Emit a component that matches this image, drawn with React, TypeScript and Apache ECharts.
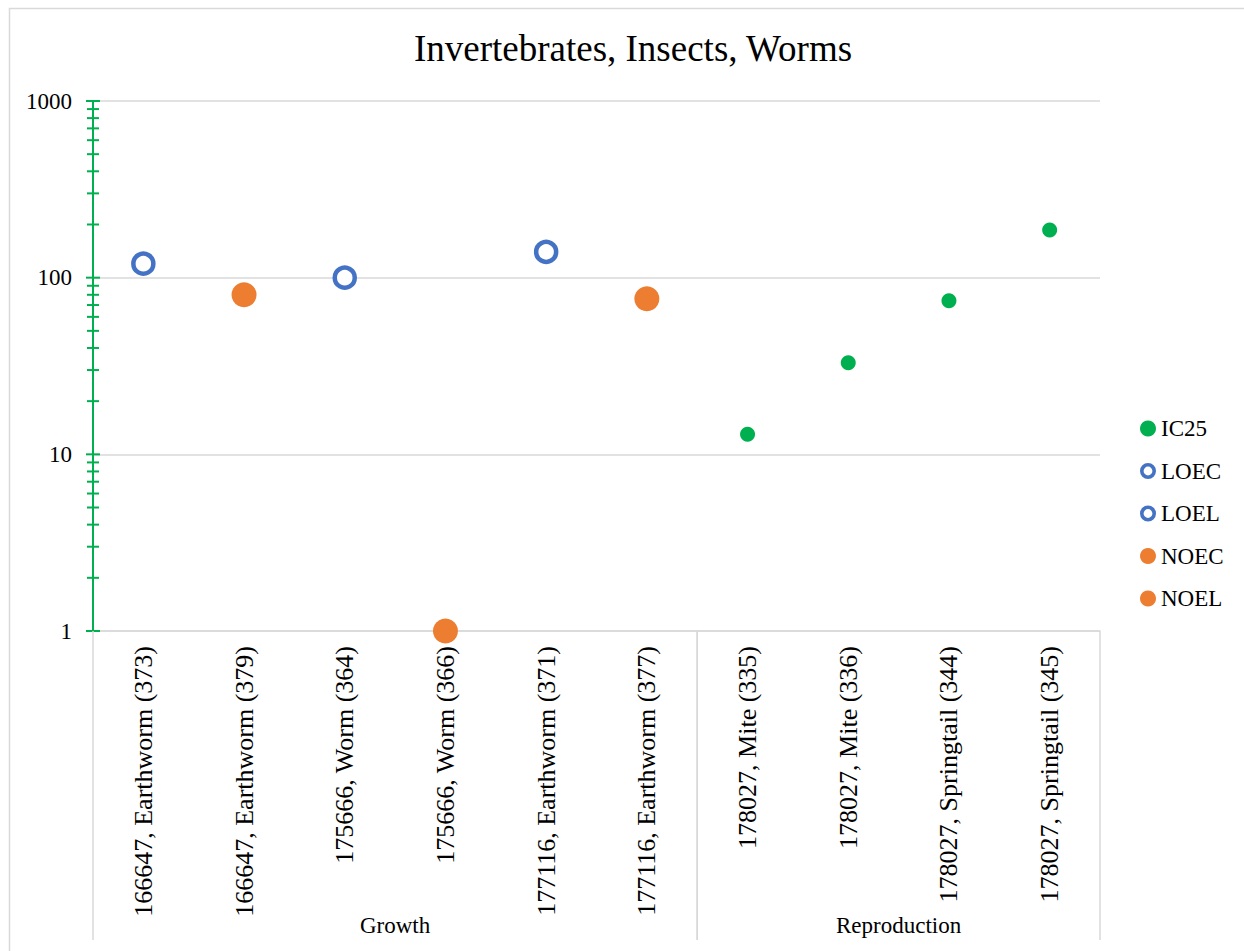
import React, { useEffect, useRef } from 'react';
import * as echarts from 'echarts';

// Test endpoints, one per category column
const categories = [
  '166647, Earthworm (373)',
  '166647, Earthworm (379)',
  '175666, Worm (364)',
  '175666, Worm (366)',
  '177116, Earthworm (371)',
  '177116, Earthworm (377)',
  '178027, Mite (335)',
  '178027, Mite (336)',
  '178027, Springtail (344)',
  '178027, Springtail (345)',
];

// Outer category level
const groupNames = ['Growth', 'Reproduction'];
const groupFirst = [0, 6];
const groupLast = [5, 9];

// Values per series (null = no observation for that column)
const ic25 = [null, null, null, null, null, null, 13, 33, 74, 186];
const loec = [120, null, null, null, 140, null, null, null, null, null];
const loel = [null, null, 100, null, null, null, null, null, null, null];
const noec = [null, 80, null, null, null, 76, null, null, null, null];
const noel = [null, null, null, 1, null, null, null, null, null, null];

// Log-axis tick marks
const majorTicks = [1, 10, 100, 1000];
const minorTicks = [
  2, 3, 4, 5, 6, 7, 8, 9,
  20, 30, 40, 50, 60, 70, 80, 90,
  200, 300, 400, 500, 600, 700, 800, 900,
];

const FONT = '"Liberation Serif", "Times New Roman", serif';
const GREEN = '#00B050';
const BLUE = '#4472C4';
const ORANGE = '#ED7D31';
const GRID_GRAY = '#D9D9D9';

const toPoints = (vals: (number | null)[]) =>
  vals.map((v, i) => (v == null ? null : [i, v])).filter((p) => p !== null);

const ringIcon =
  'path://M0,8A8,8 0 1,1 16,8A8,8 0 1,1 0,8ZM3.6,8A4.4,4.4 0 1,0 12.4,8A4.4,4.4 0 1,0 3.6,8Z';

export default function App() {
  const ref = useRef<HTMLDivElement>(null);

  useEffect(() => {
    document.body.style.margin = '0';
    if (!ref.current) return;
    const chart = echarts.init(ref.current, undefined, { renderer: 'svg' });

    const hollow = (name: string, vals: (number | null)[]) => ({
      name,
      type: 'scatter',
      data: toPoints(vals),
      symbol: 'circle',
      symbolSize: 20,
      clip: false,
      itemStyle: { color: '#ffffff', borderColor: BLUE, borderWidth: 4.5, opacity: 1 },
      z: 5,
    });
    const filled = (name: string, vals: (number | null)[], color: string, size: number) => ({
      name,
      type: 'scatter',
      data: toPoints(vals),
      symbol: 'circle',
      symbolSize: size,
      clip: false,
      itemStyle: { color, opacity: 1 },
      z: 5,
    });

    const tickData = [
      ...majorTicks.map((v) => [0, v, 1]),
      ...minorTicks.map((v) => [0, v, 0]),
    ];

    chart.setOption({
      animation: false,
      backgroundColor: '#ffffff',
      textStyle: { fontFamily: FONT },
      title: {
        text: 'Invertebrates, Insects, Worms',
        left: 628,
        textAlign: 'center',
        top: 25,
        textStyle: { fontFamily: FONT, fontSize: 37, fontWeight: 'normal', color: '#000' },
      },
      graphic: [
        {
          type: 'rect',
          left: 7,
          top: 6,
          shape: { width: 1400, height: 1100 },
          style: { fill: 'none', stroke: GRID_GRAY, lineWidth: 1.5 },
          silent: true,
          z: -1,
        },
      ],
      legend: {
        orient: 'vertical',
        left: 1135,
        top: 412,
        itemWidth: 16,
        itemHeight: 16,
        itemGap: 19.5,
        textStyle: { fontFamily: FONT, fontSize: 23, color: '#000', lineHeight: 23 },
        data: [
          { name: 'IC25', icon: 'circle' },
          { name: 'LOEC', icon: ringIcon, itemStyle: { color: BLUE, borderWidth: 0 } },
          { name: 'LOEL', icon: ringIcon, itemStyle: { color: BLUE, borderWidth: 0 } },
          { name: 'NOEC', icon: 'circle' },
          { name: 'NOEL', icon: 'circle' },
        ],
      },
      grid: { left: 93, right: 144, top: 101, bottom: 320, containLabel: false },
      xAxis: {
        type: 'category',
        data: categories,
        boundaryGap: true,
        axisLine: { show: true, lineStyle: { color: GRID_GRAY, width: 1.5 } },
        axisTick: { show: false },
        splitLine: { show: false },
        axisLabel: {
          rotate: 90,
          interval: 0,
          margin: 15,
          fontFamily: FONT,
          fontSize: 26,
          color: '#000',
        },
      },
      yAxis: {
        type: 'log',
        logBase: 10,
        min: 1,
        max: 1000,
        axisLine: { show: true, lineStyle: { color: GREEN, width: 2 } },
        axisTick: { show: false },
        minorTick: { show: false },
        splitLine: { show: true, lineStyle: { color: GRID_GRAY, width: 1.5 } },
        axisLabel: {
          fontFamily: FONT,
          fontSize: 23,
          color: '#000',
          margin: 21,
          formatter: (v: number) => String(Math.round(v)),
        },
      },
      series: [
        filled('IC25', ic25, GREEN, 15),
        hollow('LOEC', loec),
        hollow('LOEL', loel),
        filled('NOEC', noec, ORANGE, 25),
        filled('NOEL', noel, ORANGE, 25),
        {
          // cross-style major/minor tick marks on the value axis
          type: 'custom',
          silent: true,
          clip: false,
          z: 4,
          data: tickData,
          renderItem: (params: any, api: any) => {
            const cs = params.coordSys;
            const y = api.coord([0, api.value(1)])[1];
            const half = api.value(2) ? 7 : 6;
            return {
              type: 'line',
              shape: { x1: cs.x - half, y1: y, x2: cs.x + half, y2: y },
              style: { stroke: GREEN, lineWidth: 2 },
            };
          },
        },
        {
          // outer category level: separators and group names under the axis
          type: 'custom',
          silent: true,
          clip: false,
          z: 4,
          data: groupNames.map((n, i) => ({ name: n, value: [groupFirst[i], groupLast[i]] })),
          renderItem: (params: any, api: any) => {
            const cs = params.coordSys;
            const band = cs.width / categories.length;
            const x0 = api.coord([api.value(0), 1])[0] - band / 2;
            const x1 = api.coord([api.value(1), 1])[0] + band / 2;
            const yb = cs.y + cs.height;
            const lineStyle = { stroke: GRID_GRAY, lineWidth: 1.5 };
            return {
              type: 'group',
              children: [
                { type: 'line', shape: { x1: x0, y1: yb, x2: x0, y2: yb + 309 }, style: lineStyle },
                { type: 'line', shape: { x1: x1, y1: yb, x2: x1, y2: yb + 309 }, style: lineStyle },
                {
                  type: 'text',
                  style: {
                    text: groupNames[params.dataIndex],
                    x: (x0 + x1) / 2,
                    y: yb + 294,
                    align: 'center',
                    verticalAlign: 'middle',
                    fontFamily: FONT,
                    fontSize: 23,
                    fill: '#000',
                  },
                },
              ],
            };
          },
        },
      ],
    });

    return () => chart.dispose();
  }, []);

  return <div ref={ref} style={{ width: 1244, height: 951 }} />;
}
